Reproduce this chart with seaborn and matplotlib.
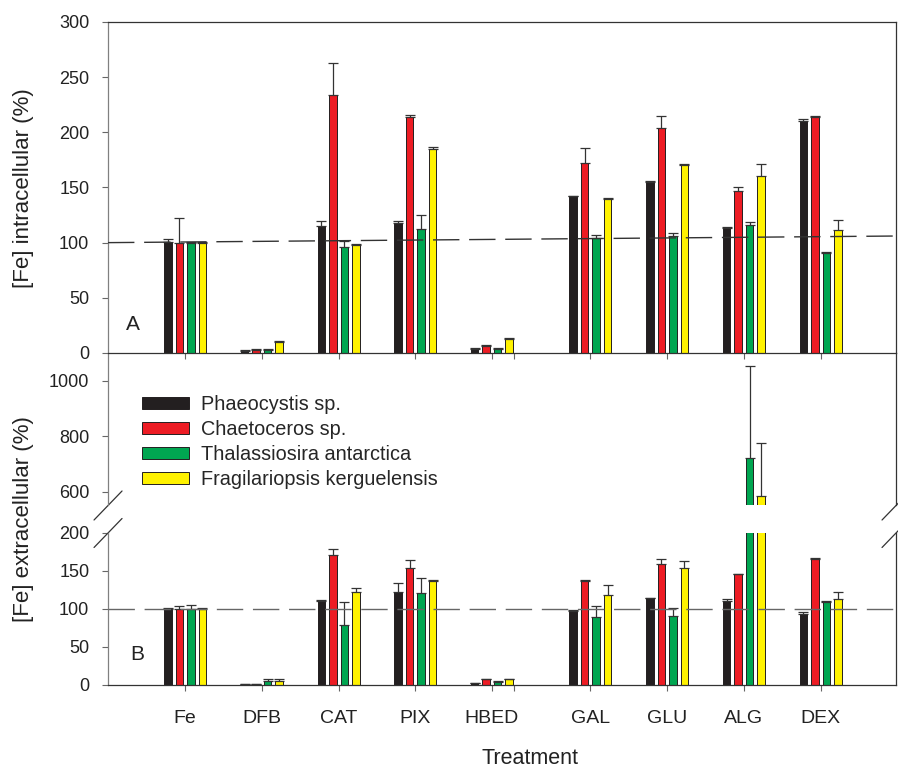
import numpy as np
import pandas as pd
import matplotlib
matplotlib.use("Agg")
import matplotlib.pyplot as plt
import seaborn as sns
from matplotlib.patches import Patch
from matplotlib.container import BarContainer

treatments = ["Fe", "DFB", "CAT", "PIX", "HBED", "GAL", "GLU", "ALG", "DEX"]
species = ["Phaeocystis sp.", "Chaetoceros sp.", "Thalassiosira antarctica",
           "Fragilariopsis kerguelensis"]
colors = ["#231f20", "#ed1c24", "#00a651", "#fff200"]

# panel A: [Fe] intracellular (%), mean and upper error per species
intra_phaeo = [101, 2, 115, 118, 4, 142, 155, 113, 210]
intra_chaeto = [100, 3, 234, 214, 6, 172, 204, 147, 214]
intra_thal = [100, 3, 96, 112, 4, 104, 106, 116, 91]
intra_frag = [100, 9.5, 97.5, 185, 13, 140, 170, 160, 111]
intra_phaeo_err = [2, 0.5, 5, 2, 0.5, 0.5, 0.8, 0.8, 2.5]
intra_chaeto_err = [22, 0.5, 29, 2, 0.8, 13.5, 11, 3.5, 1]
intra_thal_err = [0.5, 0.5, 5.5, 13, 0.5, 2.5, 2.5, 3, 0.5]
intra_frag_err = [0.5, 1, 1, 2, 0.5, 0.5, 1.2, 11, 9.5]

# panel B: [Fe] extracellular (%)
extra_phaeo = [100, 1.3, 110, 122, 2.6, 97.5, 114, 110, 93.5]
extra_chaeto = [100, 0.5, 171.5, 154, 7, 136, 159.5, 146, 165.5]
extra_thal = [100, 5.3, 78.5, 120.5, 3.5, 88.5, 91, 721, 109]
extra_frag = [100, 4.4, 121.5, 137, 7, 118, 154, 585, 113.5]
extra_phaeo_err = [0.5, 0, 2, 12.5, 0, 0.5, 0.5, 3.5, 2]
extra_chaeto_err = [3.3, 0, 7.5, 10.5, 0.5, 2, 5.7, 0.5, 1.7]
extra_thal_err = [5.5, 2.6, 30, 20, 0.5, 14.5, 10.5, 332, 1.3]
extra_frag_err = [1.6, 2.6, 6, 0.5, 0.5, 13, 8.5, 192, 8.5]

ref_line_a = [100, 106]   # hand drawn reference line in panel A (left, right)
ref_line_b = 100

intra = [intra_phaeo, intra_chaeto, intra_thal, intra_frag]
intra_err = [intra_phaeo_err, intra_chaeto_err, intra_thal_err, intra_frag_err]
extra = [extra_phaeo, extra_chaeto, extra_thal, extra_frag]
extra_err = [extra_phaeo_err, extra_chaeto_err, extra_thal_err, extra_frag_err]

# x layout: small extra gap between the chelator and the saccharide groups
gap = 0.284
positions = [1, 2, 3, 4, 5] + [p + gap for p in (6, 7, 8, 9)]
tick_pos = positions[:5] + [5 + gap] + positions[5:]
tick_lab = treatments[:5] + [""] + treatments[5:]

rows = []
for s, sp in enumerate(species):
    for t in range(len(treatments)):
        rows.append({"pos": positions[t], "species": sp,
                     "intra": intra[s][t], "extra": extra[s][t]})
df = pd.DataFrame(rows)
errs = {"intra": intra_err, "extra": extra_err}

sns.set_theme(style="ticks")
plt.rcParams["font.family"] = ["Liberation Sans", "DejaVu Sans"]

fig = plt.figure(figsize=(8.98, 7.68), dpi=100)
axA = fig.add_axes([0.1203, 0.5404, 0.8775, 0.4310])
axBu = fig.add_axes([0.1203, 0.3418, 0.8775, 0.1986])
axBl = fig.add_axes([0.1203, 0.1087, 0.8775, 0.1973])
axA.set_zorder(2)
axA.patch.set_alpha(0)

pos_arr = np.array(positions)


def draw(ax, col):
    sns.barplot(data=df, x="pos", y=col, hue="species", hue_order=species,
                palette=colors, saturation=1, native_scale=True, width=0.6,
                gap=0.35, errorbar=None, edgecolor="#231f20", linewidth=0.7,
                legend=False, ax=ax)
    bar_sets = [c for c in ax.containers if isinstance(c, BarContainer)]
    for s, cont in enumerate(bar_sets):
        xs, hs, es = [], [], []
        for bar in cont:
            xc = bar.get_x() + bar.get_width() / 2
            k = int(np.argmin(np.abs(pos_arr - xc)))
            xs.append(xc)
            hs.append(bar.get_height())
            es.append(errs[col][s][k])
        ax.errorbar(xs, hs, yerr=[np.zeros(len(es)), es], fmt="none",
                    ecolor="#333333", elinewidth=0.9, capsize=3.4,
                    capthick=0.9, zorder=3)


draw(axA, "intra")
draw(axBu, "extra")
draw(axBl, "extra")

for ax in (axA, axBu, axBl):
    ax.set_xlim(-0.005, 10.267)
    ax.set_xlabel("")
    ax.set_ylabel("")
    for sp in ax.spines.values():
        sp.set_color("#333333")
        sp.set_linewidth(0.9)
    ax.spines["left"].set_color("#808080")
    ax.tick_params(direction="out", length=4, width=0.8, color="#666666",
                   labelsize=13, pad=9.5, labelcolor="#222222")

axA.set_ylim(0, 300)
axA.set_yticks(np.arange(0, 301, 50))
axA.set_xticks(tick_pos)
axA.set_xticklabels([])
axA.plot([0, 1], ref_line_a, transform=axA.get_yaxis_transform(),
         color="#333333", lw=1, dashes=(19, 7), zorder=4)
axA.text(0.023, 0.085, "A", transform=axA.transAxes, fontsize=15,
         va="center", ha="left", color="#222222")

axBu.set_ylim(550, 1100)
axBu.set_yticks([600, 800, 1000])
axBu.set_xticks([])
axBu.spines["bottom"].set_visible(False)
axBu.spines["top"].set_visible(False)

axBl.set_ylim(0, 200)
axBl.set_yticks(np.arange(0, 201, 50))
axBl.set_xticks(tick_pos)
axBl.set_xticklabels(tick_lab, fontsize=14)
axBl.tick_params(axis="x", pad=14)
axBl.spines["top"].set_visible(False)
axBl.axhline(ref_line_b, color="#666666", lw=1, dashes=(19, 7), zorder=4)
axBl.text(0.028, 0.2, "B", transform=axBl.transAxes, fontsize=15,
          va="center", ha="left", color="#222222")

# break marks on panel B
dx = 14 / 788
for ax, y0 in ((axBu, 0), (axBl, 1)):
    dy = 14.5 / (ax.get_position().height * 768)
    for x0 in (0, 1):
        ax.plot([x0 - dx, x0 + dx], [y0 - dy, y0 + dy], transform=ax.transAxes,
                color="#333333", lw=0.9, clip_on=False)

handles = [Patch(facecolor=c, edgecolor="#231f20", linewidth=0.7) for c in colors]
fig.legend(handles, species, loc="upper left",
           bbox_to_anchor=(141.7 / 898, 1 - 395 / 768), frameon=False,
           fontsize=14.3, handlelength=2.4, handleheight=0.52,
           handletextpad=0.6, labelspacing=0.3, borderpad=0, borderaxespad=0)

fig.text(24 / 898, 1 - 188 / 768, "[Fe] intracellular (%)", rotation=90,
         ha="center", va="center", fontsize=16, color="#222222")
fig.text(24 / 898, 1 - 519 / 768, "[Fe] extracellular (%)", rotation=90,
         ha="center", va="center", fontsize=16, color="#222222")
fig.text(530 / 898, 1 - 758 / 768, "Treatment", ha="center", va="center",
         fontsize=15.5, color="#222222")

fig.savefig("out.png", dpi=100)
